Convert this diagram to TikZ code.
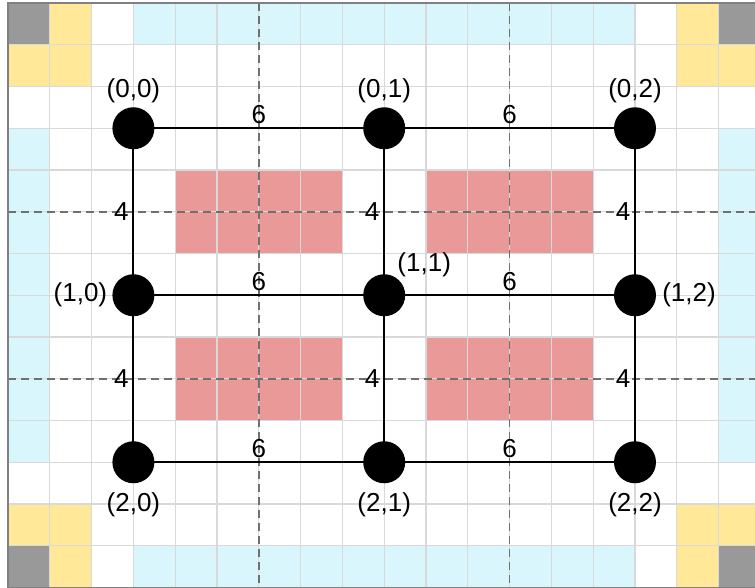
\documentclass[tikz,border=0pt]{standalone}
\usepackage{fontspec}
\setmainfont{Liberation Sans}
\definecolor{cgray}{HTML}{999999}
\definecolor{cyel}{HTML}{FFE999}
\definecolor{cblue}{HTML}{D9F6FC}
\definecolor{cpink}{HTML}{EA9999}
\definecolor{cgrid}{HTML}{D9D9D9}
\definecolor{cborder}{HTML}{808080}
\definecolor{cdash}{HTML}{707070}
\tikzset{
  dot/.style={circle, fill=black, minimum size=42pt, inner sep=0pt},
  lbl/.style={inner sep=0pt, font=\fontsize{26}{29}\selectfont},
  edge/.style={line width=2pt, black},
  gridline/.style={cgrid, line width=1.1pt},
  guide/.style={cdash, line width=1.5pt, dash pattern=on 8pt off 5pt},
}
\begin{document}
\begin{tikzpicture}[x=41.8pt,y=-41.75pt]
\useasboundingbox (-0.1914,-0.0719) rectangle (17.871,14.012);
\fill[white] (-0.1914,-0.0719) rectangle (17.871,14.012);
\begin{scope}
\clip (-0.1914,-0.0719) rectangle (17.871,14.012);
% corner cells
\fill[cgray] (0,0) rectangle (1,1);
\fill[cgray] (17,0) rectangle (18,1);
\fill[cgray] (0,13) rectangle (1,14);
\fill[cgray] (17,13) rectangle (18,14);
\fill[cyel] (1,0) rectangle (2,1);
\fill[cyel] (0,1) rectangle (2,2);
\fill[cyel] (16,0) rectangle (17,1);
\fill[cyel] (16,1) rectangle (18,2);
\fill[cyel] (1,13) rectangle (2,14);
\fill[cyel] (0,12) rectangle (2,13);
\fill[cyel] (16,13) rectangle (17,14);
\fill[cyel] (16,12) rectangle (18,13);
% side bands
\fill[cblue] (3,0) rectangle (15,1);
\fill[cblue] (3,13) rectangle (15,14);
\fill[cblue] (0,3) rectangle (1,11);
\fill[cblue] (17,3) rectangle (18,11);
% blocks
\fill[cpink] (4,4) rectangle (8,6);
\fill[cpink] (10,4) rectangle (14,6);
\fill[cpink] (4,8) rectangle (8,10);
\fill[cpink] (10,8) rectangle (14,10);
% grid
\foreach \k in {0,...,18} { \draw[gridline] (\k,0) -- (\k,14); }
\foreach \k in {0,...,14} { \draw[gridline] (0,\k) -- (18,\k); }
% guides
\draw[guide] (6,0) -- (6,14);
\draw[guide] (12,0) -- (12,14);
\draw[guide] (0,5) -- (18,5);
\draw[guide] (0,9) -- (18,9);
% border
\draw[cborder, line width=2pt] (0,0) rectangle (18,14);
\end{scope}
% node positions
\foreach \i in {0,1,2} {
  \foreach \j in {0,1,2} {
    \coordinate (c\i\j) at ({3+6*\j},{3+4*\i});
  }
}
% edges
\foreach \i in {0,1,2} {
  \draw[edge] (c\i0) -- node[lbl, yshift=14pt] (h\i a) {6} (c\i1);
  \draw[edge] (c\i1) -- node[lbl, yshift=14pt] (h\i b) {6} (c\i2);
}
\foreach \j in {0,1,2} {
  \draw[edge] (c0\j) -- node[lbl, xshift=-12pt] (v\j a) {4} (c1\j);
  \draw[edge] (c1\j) -- node[lbl, xshift=-12pt] (v\j b) {4} (c2\j);
}
\foreach \i in {0,1,2} {
  \foreach \j in {0,1,2} {
    \node[dot] (n\i\j) at (c\i\j) {};
  }
}
% labels
\node[lbl, yshift=37pt] (t00) at (n00) {(0,0)};
\node[lbl, yshift=37pt] (t01) at (n01) {(0,1)};
\node[lbl, yshift=37pt] (t02) at (n02) {(0,2)};
\node[lbl, xshift=-53pt] (t10) at (n10) {(1,0)};
\node[lbl, xshift=40pt, yshift=30pt] (t11) at (n11) {(1,1)};
\node[lbl, xshift=54pt] (t12) at (n12) {(1,2)};
\node[lbl, yshift=-43pt] (t20) at (n20) {(2,0)};
\node[lbl, yshift=-43pt] (t21) at (n21) {(2,1)};
\node[lbl, yshift=-43pt] (t22) at (n22) {(2,2)};
\end{tikzpicture}
\end{document}
